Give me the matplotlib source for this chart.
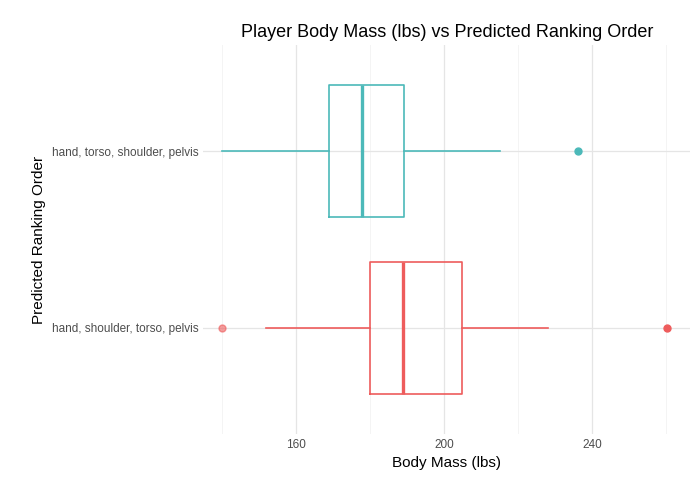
import matplotlib.pyplot as plt

plt.rcParams["font.family"] = ["Liberation Sans", "DejaVu Sans"]

# box statistics
labels = ["hand, shoulder, torso, pelvis", "hand, torso, shoulder, pelvis"]
whislo = [151.9, 140.0]
q1 = [180.0, 168.9]
med = [188.9, 177.8]
q3 = [204.9, 189.2]
whishi = [228.1, 215.1]
fliers = [[140.0, 260.3], [236.2]]
flier_alpha = [[0.6, 1.0], [1.0]]
colors = ["#EE5C5C", "#4CB9B9"]

fig = plt.figure(figsize=(6.98, 4.82), dpi=100)
ax = fig.add_axes([0.291, 0.0996, 0.698, 0.807])

stats = []
for i in range(2):
    stats.append(dict(whislo=whislo[i], q1=q1[i], med=med[i], q3=q3[i],
                      whishi=whishi[i], fliers=[], label=labels[i]))

for i, s in enumerate(stats):
    c = colors[i]
    ax.bxp([s], positions=[i + 1], widths=0.75, vert=False, showcaps=False,
           patch_artist=False,
           boxprops=dict(color=c, linewidth=1.2),
           whiskerprops=dict(color=c, linewidth=1.2),
           medianprops=dict(color=c, linewidth=2.4))
    for v, a in zip(fliers[i], flier_alpha[i]):
        ax.plot(v, i + 1, "o", color=c, alpha=a, markersize=5, zorder=3)

ax.set_xlim(134.9, 266.5)
ax.set_ylim(0.4, 2.6)
ax.set_xticks([160, 200, 240])
ax.set_xticks([140, 180, 220, 260], minor=True)
ax.set_yticks([1, 2])
ax.set_yticklabels(labels)
ax.grid(True, which="major", color="#E5E5E5", linewidth=0.9)
ax.grid(True, which="minor", axis="x", color="#F2F2F2", linewidth=0.6)
ax.set_axisbelow(True)
for sp in ax.spines.values():
    sp.set_visible(False)
ax.tick_params(length=0, labelsize=8.5, labelcolor="#4D4D4D", which="both")

ax.set_xlabel("Body Mass (lbs)", fontsize=11)
ax.set_ylabel("Predicted Ranking Order", fontsize=11)
ax.set_title("Player Body Mass (lbs) vs Predicted Ranking Order", fontsize=13)

fig.savefig("out.png", dpi=100)
